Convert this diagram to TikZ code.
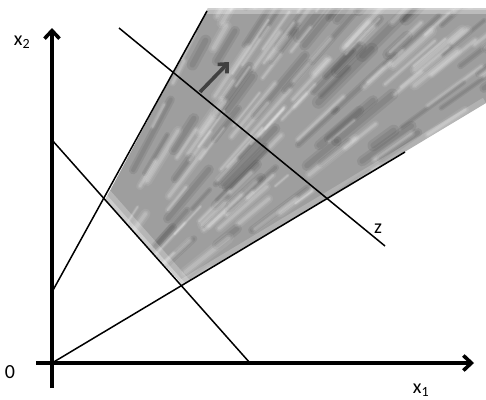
\documentclass[tikz,border=0pt]{standalone}
\usepackage{fontspec}
\setmainfont{Carlito}
\usetikzlibrary{arrows.meta}
\begin{document}
\begin{tikzpicture}[x=1pt,y=-1pt,
  axis/.style={line width=3.6pt,-{Straight Barb[length=8pt,width=15pt]}},
  thin line/.style={line width=1.5pt,black},
  dirarrow/.style={line width=3.6pt,black!75,-{Straight Barb[length=7pt,width=13pt]}},
  lab/.style={font=\fontsize{20}{20}\selectfont,inner sep=0pt}]
\useasboundingbox (0,0) rectangle (486,399);
% key points
\coordinate (O) at (52,363);
\coordinate (Ybot) at (52,388);
\coordinate (Ytop) at (52,28);
\coordinate (Xleft) at (36,363);
\coordinate (Xright) at (474,363);
\coordinate (A) at (52,292);
\coordinate (B) at (207,11);
\coordinate (C) at (405,152);
\coordinate (D) at (52,140);
\coordinate (E) at (250,363);
\coordinate (F) at (119,28);
\coordinate (G) at (385,246);
\coordinate (P) at (105,200);
\coordinate (Q) at (183,285);
\coordinate (H) at (200,92);
\coordinate (K) at (229,62);
% textured cone
\begin{scope}
  \clip (P) -- (208,8) -- (486,8) -- (486,103) -- (Q) -- cycle;
  \fill[black!38] (90,0) rectangle (486,300);
  \pgfmathsetseed{11}
  \foreach \i in {1,...,110}{
    \pgfmathsetmacro{\px}{95+rnd*395}
    \pgfmathsetmacro{\py}{5+rnd*290}
    \pgfmathsetmacro{\ang}{atan2(420-\py,\px)}
    \pgfmathsetmacro{\len}{25+rnd*60}
    \pgfmathsetmacro{\w}{5+rnd*8}
    \draw[black,opacity=0.07,line width=\w pt,line cap=round]
      (\px,\py) -- ++({\len*cos(\ang)},{-\len*sin(\ang)});
    \draw[black,opacity=0.07,line width=0.5*\w pt,line cap=round]
      (\px,\py) -- ++({\len*cos(\ang)},{-\len*sin(\ang)});
  }
  \foreach \i in {1,...,160}{
    \pgfmathsetmacro{\px}{95+rnd*395}
    \pgfmathsetmacro{\py}{5+rnd*290}
    \pgfmathsetmacro{\ang}{atan2(420-\py,\px)}
    \pgfmathsetmacro{\len}{15+rnd*55}
    \pgfmathsetmacro{\w}{1.2+rnd*2.5}
    \draw[white,opacity=0.08,line width=3*\w pt,line cap=round]
      (\px,\py) -- ++({\len*cos(\ang)},{-\len*sin(\ang)});
    \draw[white,opacity=0.1,line width=1.8*\w pt,line cap=round]
      (\px,\py) -- ++({\len*cos(\ang)},{-\len*sin(\ang)});
    \draw[white,opacity=0.14,line width=\w pt,line cap=round]
      (\px,\py) -- ++({\len*cos(\ang)},{-\len*sin(\ang)});
  }
  \draw[white,opacity=0.25,line width=20pt] (D) -- (E);
  \draw[white,opacity=0.3,line width=9pt] (D) -- (E);
  \draw[white,opacity=0.2,line width=12pt] (Q) -- (486,103);
  \fill[white,opacity=0.3] (200,0) rectangle (486,14);
  \fill[white,opacity=0.3] (200,0) rectangle (486,10);
\end{scope}
% lines
\draw[thin line] (A) -- (B);
\draw[thin line] (O) -- (C);
\draw[thin line] (D) -- (E);
\draw[thin line] (F) -- (G);
% axes
\draw[axis] (Ybot) -- (Ytop);
\draw[axis] (Xleft) -- (Xright);
% direction arrow
\draw[dirarrow] (H) -- (K);
% labels
\node[lab] (lx2) at (22,42) {x\textsubscript{2}};
\node[lab] (l0) at (10,372) {0};
\node[lab] (lx1) at (421,390) {x\textsubscript{1}};
\node[lab] (lz) at (378,229) {z};
\end{tikzpicture}
\end{document}
